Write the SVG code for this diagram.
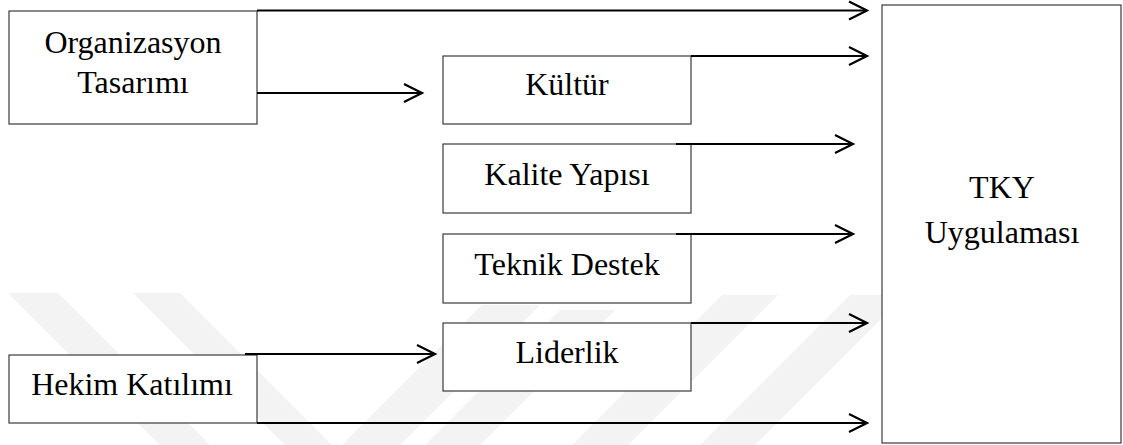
<svg xmlns="http://www.w3.org/2000/svg" width="1123" height="445" viewBox="0 0 1123 445">
  <style>
    .box { fill: #ffffff; stroke: #3a3a3a; stroke-width: 1.2; }
    .lbl { font-family: "Liberation Serif", "Times New Roman", serif; font-size: 32px; fill: #000; text-anchor: middle; }
    .conn { fill: none; stroke: #000; stroke-width: 2; marker-end: url(#arr); }
    .wm { fill: #f3f3f3; }
  </style>
  <defs>
    <marker id="arr" viewBox="-1 -1 21 21" refX="18" refY="9" markerWidth="21" markerHeight="21" markerUnits="userSpaceOnUse" orient="auto" overflow="visible">
      <path d="M0,0 L18,9 L0,18" fill="none" stroke="#000" stroke-width="2.2"/>
    </marker>
  </defs>
  <rect width="1123" height="445" fill="#ffffff"/>
  <g id="watermark">
    <polygon class="wm" points="8,293 58,293 210,445 160,445"/>
    <polygon class="wm" points="133,293 180,293 332,445 285,445"/>
    <polygon class="wm" points="482,305 540,305 400,445 342,445"/>
    <polygon class="wm" points="560,310 615,310 480,445 425,445"/>
    <polygon class="wm" points="722,295 778,295 628,445 572,445"/>
    <polygon class="wm" points="850,295 905,295 755,445 700,445"/>
  </g>
  <g id="node-organizasyon">
    <rect class="box" x="9" y="11" width="248" height="113"/>
    <text class="lbl" x="133" y="53">Organizasyon</text>
    <text class="lbl" x="133" y="93">Tasarımı</text>
  </g>
  <g id="node-kultur">
    <rect class="box" x="443" y="56" width="248" height="68"/>
    <text class="lbl" x="567" y="95">Kültür</text>
  </g>
  <g id="node-kalite">
    <rect class="box" x="443" y="144" width="248" height="69"/>
    <text class="lbl" x="567" y="185">Kalite Yapısı</text>
  </g>
  <g id="node-teknik">
    <rect class="box" x="443" y="234" width="248" height="69"/>
    <text class="lbl" x="567" y="275">Teknik Destek</text>
  </g>
  <g id="node-liderlik">
    <rect class="box" x="443" y="323" width="248" height="68"/>
    <text class="lbl" x="567" y="363">Liderlik</text>
  </g>
  <g id="node-hekim">
    <rect class="box" x="9" y="355" width="248" height="68"/>
    <text class="lbl" x="132" y="395">Hekim Katılımı</text>
  </g>
  <g id="node-tky">
    <rect class="box" x="882" y="5" width="239" height="438"/>
    <text class="lbl" x="1002" y="198">TKY</text>
    <text class="lbl" x="1002" y="243">Uygulaması</text>
  </g>
  <g id="connectors">
    <path class="conn" d="M257,10.5 H867"/>
    <path class="conn" d="M257,93 H422"/>
    <path class="conn" d="M691,56 H867"/>
    <path class="conn" d="M676,144 H853"/>
    <path class="conn" d="M676,234 H853"/>
    <path class="conn" d="M691,323 H867"/>
    <path class="conn" d="M245,354 H435"/>
    <path class="conn" d="M257,423 H867"/>
  </g>
</svg>
